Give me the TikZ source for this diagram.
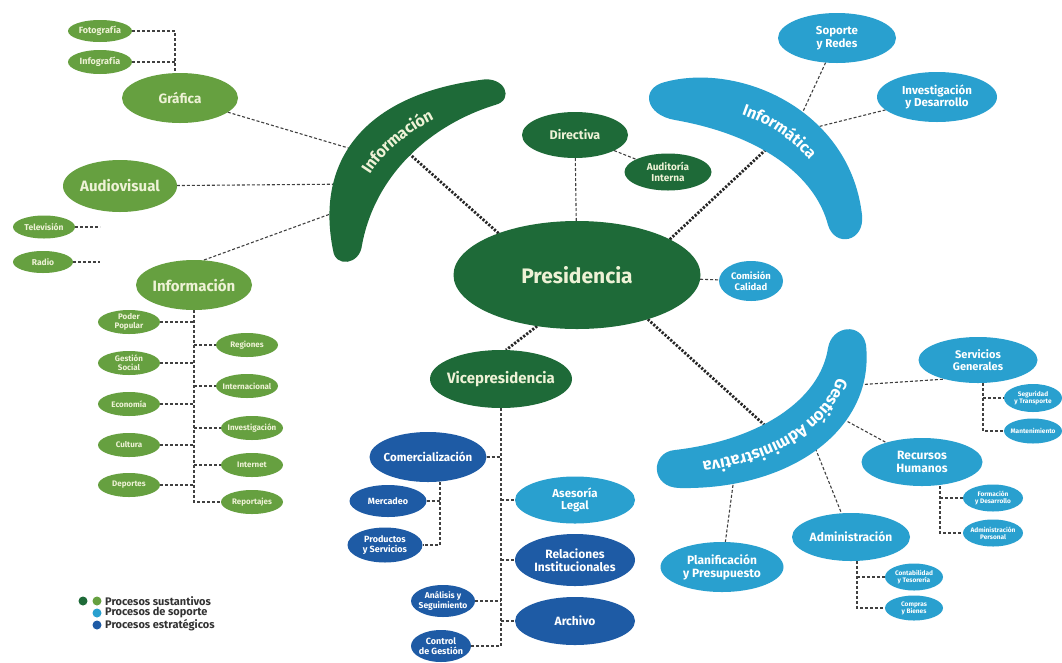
\documentclass[tikz,border=0pt]{standalone}
\usepackage{fontspec}
\setmainfont{Fira Sans}
\usetikzlibrary{shapes.geometric, decorations.text}

\definecolor{dgreen}{HTML}{1E6A38}
\definecolor{lgreen}{HTML}{66A040}
\definecolor{lblue}{HTML}{29A0CF}
\definecolor{dblue}{HTML}{1E5BA5}
\definecolor{paletext}{HTML}{EEF2D6}

\pgfdeclarelayer{bg}
\pgfsetlayers{bg,main}

\tikzset{
  orgunit/.style={ellipse, inner xsep=-30pt, inner ysep=-20pt, outer sep=0pt, align=center},
  dgr/.style={orgunit, fill=dgreen, text=paletext},
  lgr/.style={orgunit, fill=lgreen, text=paletext},
  lbl/.style={orgunit, fill=lblue, text=white},
  dbl/.style={orgunit, fill=dblue, text=white},
  sz/.style 2 args={minimum width=#1pt, minimum height=#2pt},
  fs/.style={font=\bfseries\pgfmathsetmacro\lsk{1.1*#1}\fontsize{#1}{\lsk}\selectfont},
  link/.style={draw=black!75, line width=1.1pt, dash pattern=on 3pt off 2pt},
  trunk/.style={draw=black!85, line width=2.8pt, dash pattern=on 2.2pt off 1.6pt},
  bandtext/.style n args={3}{decorate, decoration={text along path, text align=center,
      raise=-5pt, text color=#2, text={|\bfseries\fontsize{#3}{#3}\selectfont|#1}}},
}

\begin{document}
\begin{tikzpicture}[x=1pt, y=-1pt]
  \useasboundingbox (0,0) rectangle (1062,662);

  % bands
  \fill[dgreen] (333,250) .. controls (315,160) and (365,95) .. (480,80)
    .. controls (505,75) and (515,100) .. (495,105)
    .. controls (430,125) and (375,175) .. (362,245)
    .. controls (360,265) and (335,268) .. (333,250) -- cycle;
  \path[bandtext={Información}{paletext}{16}] (347,238) .. controls (345,165) and (410,110) .. (498,93);

  \fill[lblue] (665,82) .. controls (740,62) and (850,110) .. (862,215)
    .. controls (865,242) and (835,248) .. (828,225)
    .. controls (815,175) and (760,135) .. (675,120)
    .. controls (645,115) and (640,88) .. (665,82) -- cycle;
  \path[bandtext={Informática}{white}{16}] (668,100) .. controls (750,95) and (830,140) .. (845,225);

  \fill[lblue] (866,345) .. controls (875,430) and (790,490) .. (680,488)
    .. controls (650,488) and (650,452) .. (675,450)
    .. controls (760,440) and (820,400) .. (828,348)
    .. controls (832,325) and (862,322) .. (866,345) -- cycle;
  \path[bandtext={Gestión Administrativa}{white}{16.5}] (847,345) .. controls (850,420) and (770,468) .. (668,469);

  \coordinate (ib-graf) at (372,155);
  \coordinate (ib-audio) at (360,184);
  \coordinate (ib-infl) at (355,205);
  \coordinate (ib-pres) at (405,150);
  \coordinate (im-pres) at (775,141);
  \coordinate (im-sop) at (800,118);
  \coordinate (im-inv) at (805,130);
  \coordinate (ga-pres) at (770,430);
  \coordinate (ga-servg) at (840,386);
  \coordinate (ga-rrhh) at (830,412);
  \coordinate (ga-adm) at (808,430);
  \coordinate (ga-plan) at (735,470);
  \coordinate (tvend) at (100,227);
  \coordinate (radend) at (100,262);

  % sustantive: light green
  \node[lgr, sz={64}{22}, fs=9] (foto) at (100,31) {Fotografía};
  \node[lgr, sz={64}{24}, fs=9] (infog) at (100,62) {Infografía};
  \node[lgr, sz={116}{50}, fs=13.5] (graf) at (180,98) {Gráfica};
  \node[lgr, sz={114}{52}, fs=15] (audio) at (120,186) {Audiovisual};
  \node[lgr, sz={62}{23}, fs=8.5] (tv) at (44,227) {Televisión};
  \node[lgr, sz={60}{22}, fs=8.5] (radio) at (43,262) {Radio};
  \node[lgr, sz={116}{50}, fs=15] (infl) at (194,285) {Información};
  \node[lgr, sz={62}{24}, fs=8] (poder) at (129,322) {Poder\\Popular};
  \node[lgr, sz={62}{24}, fs=8] (gsoc) at (129,363) {Gestión\\Social};
  \node[lgr, sz={62}{24}, fs=8] (econ) at (129,404) {Economía};
  \node[lgr, sz={62}{24}, fs=8] (cult) at (129,445) {Cultura};
  \node[lgr, sz={62}{24}, fs=8] (dep) at (129,485) {Deportes};
  \node[lgr, sz={62}{24}, fs=8] (reg) at (247,345) {Regiones};
  \node[lgr, sz={62}{24}, fs=8] (intl) at (247,386) {Internacional};
  \node[lgr, sz={62}{24}, fs=8] (invs) at (252,428) {Investigación};
  \node[lgr, sz={62}{24}, fs=8] (inet) at (252,465) {Internet};
  \node[lgr, sz={62}{24}, fs=8] (repo) at (252,502) {Reportajes};

  % sustantive: dark green
  \node[dgr, sz={247}{108}, fs=21] (pres) at (577,275) {Presidencia};
  \node[dgr, sz={106}{46}, fs=12.5] (dir) at (575,135) {Directiva};
  \node[dgr, sz={87}{37}, fs=10] (aud) at (668,172) {Auditoría\\Interna};
  \node[dgr, sz={142}{58}, fs=15] (vice) at (501,379) {Vicepresidencia};

  % support
  \node[lbl, sz={64}{40}, fs=9.5] (comi) at (751,281) {Comisión\\Calidad};
  \node[lbl, sz={118}{50}, fs=11.5] (sop) at (837,38) {Soporte\\y Redes};
  \node[lbl, sz={120}{50}, fs=11.5] (inv) at (937,97) {Investigación\\y Desarrollo};
  \node[lbl, sz={120}{47}, fs=11.5] (ases) at (575,500) {Asesoría\\Legal};
  \node[lbl, sz={119}{46}, fs=11] (servg) at (978,360) {Servicios\\Generales};
  \node[lbl, sz={58}{28}, fs=6.5] (segu) at (1033,398) {Seguridad\\y Transporte};
  \node[lbl, sz={58}{25}, fs=6.5] (mant) at (1033,431) {Mantenimiento};
  \node[lbl, sz={121}{48}, fs=12] (rrhh) at (922,462) {Recursos\\Humanos};
  \node[lbl, sz={60}{27}, fs=6.5] (form) at (993,498) {Formación\\y Desarrollo};
  \node[lbl, sz={60}{27}, fs=6.5] (admp) at (993,533) {Administración\\Personal};
  \node[lbl, sz={118}{48}, fs=12] (adm) at (851,537) {Administración};
  \node[lbl, sz={58}{27}, fs=6.5] (cont) at (914,577) {Contabilidad\\y Tesorería};
  \node[lbl, sz={58}{25}, fs=6.5] (comp) at (914,608) {Compras\\y Bienes};
  \node[lbl, sz={123}{50}, fs=12] (plan) at (722,567) {Planificación\\y Presupuesto};

  % strategic
  \node[dbl, sz={117}{50}, fs=11.5] (come) at (428,457) {Comercialización};
  \node[dbl, sz={77}{32}, fs=9] (merc) at (388,501) {Mercadeo};
  \node[dbl, sz={75}{35}, fs=9] (prod) at (385,545) {Productos\\y Servicios};
  \node[dbl, sz={120}{52}, fs=12] (rela) at (575,560) {Relaciones\\Institucionales};
  \node[dbl, sz={64}{32}, fs=8.5] (anal) at (443,601) {Análisis y\\Seguimiento};
  \node[dbl, sz={120}{48}, fs=12] (arch) at (575,621) {Archivo};
  \node[dbl, sz={60}{32}, fs=9] (ctrl) at (441,646) {Control\\de Gestión};

  % legend
  \node[circle, fill=dgreen, minimum size=9pt, inner sep=0pt] (ld1) at (83,601) {};
  \node[circle, fill=lgreen, minimum size=9pt, inner sep=0pt] (ld2) at (97,601) {};
  \node[circle, fill=lblue, minimum size=9pt, inner sep=0pt] (ld3) at (97,613) {};
  \node[circle, fill=dblue, minimum size=9pt, inner sep=0pt] (ld4) at (97,625) {};
  \node[anchor=west, inner sep=0pt, text=black!80, fs=11] (lt1) at (105,601) {Procesos sustantivos};
  \node[anchor=west, inner sep=0pt, text=black!80, fs=11] (lt2) at (105,613) {Procesos de soporte};
  \node[anchor=west, inner sep=0pt, text=black!80, fs=11] (lt3) at (105,625) {Procesos estratégicos};

  \begin{pgfonlayer}{bg}
    \fill[white] (0,0) rectangle (1062,662);
    \draw[trunk] (pres.152) -- (ib-pres);
    \draw[trunk] (pres.21) -- (im-pres);
    \draw[trunk] (pres.328) -- (ga-pres);
    \draw[trunk] (pres.232) -- ([xshift=5pt]vice.north);

    \draw[link] (graf) -- (ib-graf);
    \draw[link] (audio) -- (ib-audio);
    \draw[link] ([xshift=10pt]infl.north) -- (ib-infl);
    \coordinate (gtop) at ([xshift=-5pt]graf.north);
    \draw[link] (foto.east) -| (gtop);
    \draw[link] (infog.east) -- (infog.east -| gtop);
    \draw[link] (tv.east) -- (tvend);
    \draw[link] (radio.east) -- (radend);
    \draw[link] (infl.south) |- (repo.west);
    \foreach \n in {poder, gsoc, econ, cult, dep}
      \draw[link] (\n.east) -- (\n.east -| infl.south);
    \foreach \n in {reg, intl, invs, inet}
      \draw[link] (\n.west -| infl.south) -- (\n.west);

    \draw[link] (dir) -- (pres);
    \draw[link] (dir) -- (aud);
    \draw[link] (pres) -- (comi);
    \draw[link] (sop) -- (im-sop);
    \draw[link] (inv) -- (im-inv);

    \draw[link] (vice.south) |- (ctrl.east);
    \foreach \n in {come, anal}
      \draw[link] (\n.east) -- (\n.east -| vice.south);
    \foreach \n in {ases, rela, arch}
      \draw[link] (\n.west -| vice.south) -- (\n.west);
    \coordinate (ctop) at ([xshift=12pt]come.south);
    \draw[link] (ctop) |- (prod.east);
    \draw[link] (merc.east) -- (merc.east -| ctop);

    \draw[link] (ga-servg) -- (servg.210);
    \draw[link] (ga-rrhh) -- (rrhh);
    \draw[link] (ga-adm) -- (adm);
    \draw[link] (ga-plan) -- (plan);
    \coordinate (stop) at ([xshift=5pt]servg.south);
    \draw[link] (stop) |- (mant.west);
    \draw[link] (segu.west -| stop) -- (segu.west);
    \coordinate (rtop) at ([xshift=18pt]rrhh.south);
    \draw[link] (rtop) |- (admp.west);
    \draw[link] (form.west -| rtop) -- (form.west);
    \coordinate (atop) at ([xshift=6pt]adm.south);
    \draw[link] (atop) |- (comp.west);
    \draw[link] (cont.west -| atop) -- (cont.west);
  \end{pgfonlayer}
\end{tikzpicture}
\end{document}
